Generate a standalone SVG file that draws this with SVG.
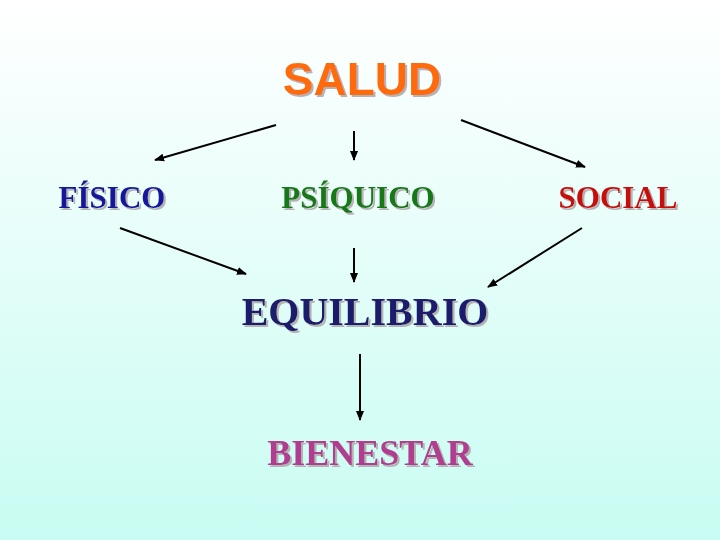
<svg xmlns="http://www.w3.org/2000/svg" width="720" height="540" viewBox="0 0 720 540">
<defs>
<linearGradient id="bg" x1="0" y1="0" x2="0" y2="1">
<stop offset="0" stop-color="#ffffff"/>
<stop offset="1" stop-color="#c8fcf2"/>
</linearGradient>
<filter id="shadow" x="-10%" y="-20%" width="130%" height="150%">
<feFlood flood-color="#b4b4b4" result="f"/>
<feComposite in="f" in2="SourceAlpha" operator="in" result="s"/>
<feOffset in="s" dx="2" dy="2" result="o"/>
<feMerge><feMergeNode in="o"/><feMergeNode in="SourceGraphic"/></feMerge>
</filter>
<marker id="ah" viewBox="0 0 10 10" refX="9" refY="5" markerWidth="5" markerHeight="5" orient="auto" markerUnits="strokeWidth">
<path d="M0,1 L10,5 L0,9 z" fill="#000"/>
</marker>
<style>
text{filter:url(#shadow)}
.serif{font-family:"Liberation Serif","Times New Roman",serif;font-weight:bold;text-anchor:middle}
.sans{font-family:"Liberation Sans",Arial,sans-serif;font-weight:bold;text-anchor:middle}
.c line{stroke:#000;stroke-width:2;marker-end:url(#ah)}
</style>
</defs>
<rect width="720" height="540" fill="url(#bg)"/>
<g id="salud"><text class="sans" x="362" y="95" font-size="46" fill="#ff6a0a">SALUD</text></g>
<g id="fisico"><text class="serif" x="112" y="208" font-size="31" fill="#14149c">FÍSICO</text></g>
<g id="psiquico"><text class="serif" x="358" y="208" font-size="31" fill="#187818">PSÍQUICO</text></g>
<g id="social"><text class="serif" x="618" y="208" font-size="31" fill="#c80a0a">SOCIAL</text></g>
<g id="equilibrio"><text class="serif" x="365" y="325" font-size="40" fill="#1c1c6c">EQUILIBRIO</text></g>
<g id="bienestar"><text class="serif" x="370" y="465" font-size="36" fill="#b03c90">BIENESTAR</text></g>
<g class="c" id="connectors">
<line x1="276" y1="125" x2="155" y2="160"/>
<line x1="354" y1="131" x2="354" y2="160"/>
<line x1="461" y1="120" x2="585" y2="167"/>
<line x1="120" y1="228" x2="246" y2="274"/>
<line x1="354" y1="248" x2="354" y2="282"/>
<line x1="582" y1="228" x2="488" y2="287"/>
<line x1="360" y1="354" x2="360" y2="420"/>
</g>
</svg>
